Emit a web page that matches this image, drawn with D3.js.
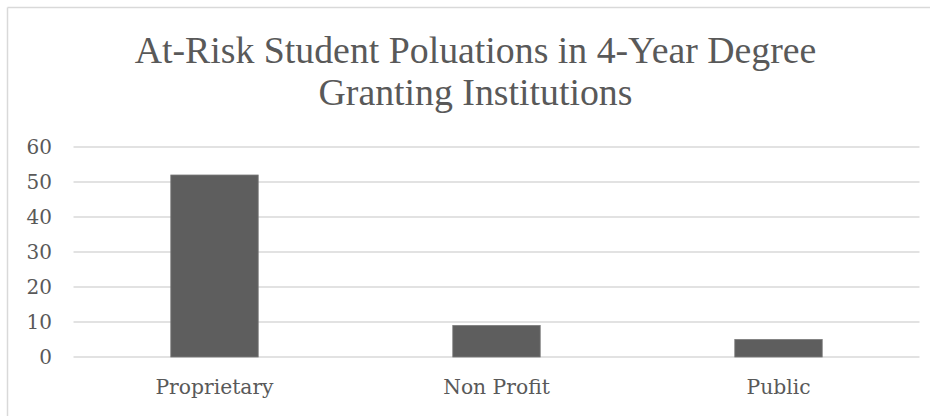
<!DOCTYPE html>
<html><head><meta charset="utf-8">
<script src="https://cdn.jsdelivr.net/npm/d3@7"></script>
<style>html,body{margin:0;padding:0;background:#fff;}svg{display:block;}</style>
</head><body>
<script>
const categories = ["Proprietary", "Non Profit", "Public"];
const values = [52, 9, 5];
const yTicks = [0, 10, 20, 30, 40, 50, 60];
const titleLines = ["At-Risk Student Poluations in 4-Year Degree", "Granting Institutions"];

const W = 935, H = 416;
const svg = d3.select("body").append("svg").attr("width", W).attr("height", H);

// chart border (top and left visible)
svg.append("line").attr("x1", 7.5).attr("x2", 930).attr("y1", 7.5).attr("y2", 7.5)
  .attr("stroke", "#d9d9d9").attr("stroke-width", 1.5);
svg.append("line").attr("x1", 7.5).attr("x2", 7.5).attr("y1", 7.5).attr("y2", H)
  .attr("stroke", "#d9d9d9").attr("stroke-width", 1.5);

const x = d3.scaleBand().domain(categories).range([73.5, 919.5]).paddingInner(0.69).paddingOuter(0.345);
const y = d3.scaleLinear().domain([0, 60]).range([357, 147]);

// gridlines
svg.append("g").selectAll("line").data(yTicks).join("line")
  .attr("x1", 73.5).attr("x2", 919.5)
  .attr("y1", d => y(d)).attr("y2", d => y(d))
  .attr("stroke", "#d9d9d9").attr("stroke-width", 1.5);

// y axis labels
const yAxis = d3.axisLeft(y).tickValues(yTicks).tickSize(0).tickPadding(0);
const gy = svg.append("g").attr("transform", "translate(52,0)").call(yAxis);
gy.select(".domain").remove();
gy.selectAll("text").attr("font-family", "DejaVu Serif").attr("font-size", 20).attr("fill", "#595959");

// bars
svg.append("g").selectAll("rect").data(values).join("rect")
  .attr("x", (d, i) => x(categories[i]))
  .attr("width", x.bandwidth())
  .attr("y", d => y(d))
  .attr("height", d => y(0) - y(d))
  .attr("fill", "#5e5e5e").attr("stroke", "#7a7a7a").attr("stroke-width", 0.8);

// x axis labels
const xAxis = d3.axisBottom(x).tickSize(0).tickPadding(0);
const gx = svg.append("g").attr("transform", "translate(0,380)").call(xAxis);
gx.select(".domain").remove();
gx.selectAll("text").attr("font-family", "DejaVu Serif").attr("font-size", 20.3).attr("fill", "#595959");

// title
svg.append("g").selectAll("text").data(titleLines).join("text")
  .attr("x", 475.5).attr("y", (d, i) => 63 + i * 42)
  .attr("text-anchor", "middle")
  .attr("font-family", "Liberation Serif").attr("font-size", 37.8).attr("fill", "#595959")
  .text(d => d);
</script>
</body></html>
